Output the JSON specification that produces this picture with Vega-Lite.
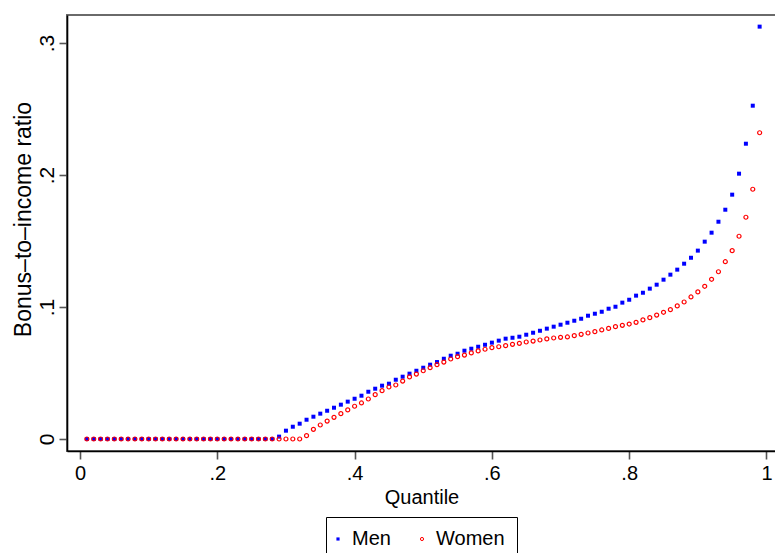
{
  "$schema": "https://vega.github.io/schema/vega-lite/v6.json",
  "width": 709,
  "height": 436,
  "autosize": {"type": "none"},
  "padding": {"left": 67, "top": 15, "right": 0, "bottom": 102},
  "background": "white",
  "config": {
    "font": "Liberation Sans",
    "view": {"stroke": "#6a6a6a", "strokeWidth": 2},
    "axis": {"grid": false, "domainColor": "#000000", "domainWidth": 1.6, "tickColor": "#555555", "tickWidth": 1.6, "tickSize": 8, "labelColor": "#000000", "titleColor": "#000000", "labelFont": "Liberation Sans", "titleFont": "Liberation Sans", "titleFontWeight": "normal"},
    "legend": {"layout": {"bottom": {"anchor": "middle"}}}
  },
  "data": {"values": [
    {"quantile":0.01,"group":"Men","ratio":0},{"quantile":0.02,"group":"Men","ratio":0},{"quantile":0.03,"group":"Men","ratio":0},{"quantile":0.04,"group":"Men","ratio":0},{"quantile":0.05,"group":"Men","ratio":0},{"quantile":0.06,"group":"Men","ratio":0},{"quantile":0.07,"group":"Men","ratio":0},{"quantile":0.08,"group":"Men","ratio":0},{"quantile":0.09,"group":"Men","ratio":0},{"quantile":0.10,"group":"Men","ratio":0},
    {"quantile":0.11,"group":"Men","ratio":0},{"quantile":0.12,"group":"Men","ratio":0},{"quantile":0.13,"group":"Men","ratio":0},{"quantile":0.14,"group":"Men","ratio":0},{"quantile":0.15,"group":"Men","ratio":0},{"quantile":0.16,"group":"Men","ratio":0},{"quantile":0.17,"group":"Men","ratio":0},{"quantile":0.18,"group":"Men","ratio":0},{"quantile":0.19,"group":"Men","ratio":0},{"quantile":0.20,"group":"Men","ratio":0},
    {"quantile":0.21,"group":"Men","ratio":0},{"quantile":0.22,"group":"Men","ratio":0},{"quantile":0.23,"group":"Men","ratio":0},{"quantile":0.24,"group":"Men","ratio":0},{"quantile":0.25,"group":"Men","ratio":0},{"quantile":0.26,"group":"Men","ratio":0},{"quantile":0.27,"group":"Men","ratio":0},{"quantile":0.28,"group":"Men","ratio":0},{"quantile":0.29,"group":"Men","ratio":0.0018},{"quantile":0.30,"group":"Men","ratio":0.0063},
    {"quantile":0.31,"group":"Men","ratio":0.0093},{"quantile":0.32,"group":"Men","ratio":0.0116},{"quantile":0.33,"group":"Men","ratio":0.0146},{"quantile":0.34,"group":"Men","ratio":0.0169},{"quantile":0.35,"group":"Men","ratio":0.0192},{"quantile":0.36,"group":"Men","ratio":0.0214},{"quantile":0.37,"group":"Men","ratio":0.0237},{"quantile":0.38,"group":"Men","ratio":0.0260},{"quantile":0.39,"group":"Men","ratio":0.0283},{"quantile":0.40,"group":"Men","ratio":0.0305},
    {"quantile":0.41,"group":"Men","ratio":0.0328},{"quantile":0.42,"group":"Men","ratio":0.0358},{"quantile":0.43,"group":"Men","ratio":0.0381},{"quantile":0.44,"group":"Men","ratio":0.0404},{"quantile":0.45,"group":"Men","ratio":0.0419},{"quantile":0.46,"group":"Men","ratio":0.0449},{"quantile":0.47,"group":"Men","ratio":0.0472},{"quantile":0.48,"group":"Men","ratio":0.0495},{"quantile":0.49,"group":"Men","ratio":0.0517},{"quantile":0.50,"group":"Men","ratio":0.0540},
    {"quantile":0.51,"group":"Men","ratio":0.0563},{"quantile":0.52,"group":"Men","ratio":0.0583},{"quantile":0.53,"group":"Men","ratio":0.0608},{"quantile":0.54,"group":"Men","ratio":0.0631},{"quantile":0.55,"group":"Men","ratio":0.0646},{"quantile":0.56,"group":"Men","ratio":0.0669},{"quantile":0.57,"group":"Men","ratio":0.0684},{"quantile":0.58,"group":"Men","ratio":0.0699},{"quantile":0.59,"group":"Men","ratio":0.0714},{"quantile":0.60,"group":"Men","ratio":0.0730},
    {"quantile":0.61,"group":"Men","ratio":0.0745},{"quantile":0.62,"group":"Men","ratio":0.0760},{"quantile":0.63,"group":"Men","ratio":0.0767},{"quantile":0.64,"group":"Men","ratio":0.0775},{"quantile":0.65,"group":"Men","ratio":0.0790},{"quantile":0.66,"group":"Men","ratio":0.0805},{"quantile":0.67,"group":"Men","ratio":0.0820},{"quantile":0.68,"group":"Men","ratio":0.0836},{"quantile":0.69,"group":"Men","ratio":0.0851},{"quantile":0.70,"group":"Men","ratio":0.0866},
    {"quantile":0.71,"group":"Men","ratio":0.0881},{"quantile":0.72,"group":"Men","ratio":0.0896},{"quantile":0.73,"group":"Men","ratio":0.0911},{"quantile":0.74,"group":"Men","ratio":0.0934},{"quantile":0.75,"group":"Men","ratio":0.0949},{"quantile":0.76,"group":"Men","ratio":0.0964},{"quantile":0.77,"group":"Men","ratio":0.0987},{"quantile":0.78,"group":"Men","ratio":0.1002},{"quantile":0.79,"group":"Men","ratio":0.1033},{"quantile":0.80,"group":"Men","ratio":0.1055},
    {"quantile":0.81,"group":"Men","ratio":0.1086},{"quantile":0.82,"group":"Men","ratio":0.1108},{"quantile":0.83,"group":"Men","ratio":0.1139},{"quantile":0.84,"group":"Men","ratio":0.1169},{"quantile":0.85,"group":"Men","ratio":0.1207},{"quantile":0.86,"group":"Men","ratio":0.1245},{"quantile":0.87,"group":"Men","ratio":0.1283},{"quantile":0.88,"group":"Men","ratio":0.1328},{"quantile":0.89,"group":"Men","ratio":0.1373},{"quantile":0.90,"group":"Men","ratio":0.1427},
    {"quantile":0.91,"group":"Men","ratio":0.1495},{"quantile":0.92,"group":"Men","ratio":0.1563},{"quantile":0.93,"group":"Men","ratio":0.1646},{"quantile":0.94,"group":"Men","ratio":0.1737},{"quantile":0.95,"group":"Men","ratio":0.1851},{"quantile":0.96,"group":"Men","ratio":0.2010},{"quantile":0.97,"group":"Men","ratio":0.2237},{"quantile":0.98,"group":"Men","ratio":0.2525},{"quantile":0.99,"group":"Men","ratio":0.3124},
    {"quantile":0.01,"group":"Women","ratio":0},{"quantile":0.02,"group":"Women","ratio":0},{"quantile":0.03,"group":"Women","ratio":0},{"quantile":0.04,"group":"Women","ratio":0},{"quantile":0.05,"group":"Women","ratio":0},{"quantile":0.06,"group":"Women","ratio":0},{"quantile":0.07,"group":"Women","ratio":0},{"quantile":0.08,"group":"Women","ratio":0},{"quantile":0.09,"group":"Women","ratio":0},{"quantile":0.10,"group":"Women","ratio":0},
    {"quantile":0.11,"group":"Women","ratio":0},{"quantile":0.12,"group":"Women","ratio":0},{"quantile":0.13,"group":"Women","ratio":0},{"quantile":0.14,"group":"Women","ratio":0},{"quantile":0.15,"group":"Women","ratio":0},{"quantile":0.16,"group":"Women","ratio":0},{"quantile":0.17,"group":"Women","ratio":0},{"quantile":0.18,"group":"Women","ratio":0},{"quantile":0.19,"group":"Women","ratio":0},{"quantile":0.20,"group":"Women","ratio":0},
    {"quantile":0.21,"group":"Women","ratio":0},{"quantile":0.22,"group":"Women","ratio":0},{"quantile":0.23,"group":"Women","ratio":0},{"quantile":0.24,"group":"Women","ratio":0},{"quantile":0.25,"group":"Women","ratio":0},{"quantile":0.26,"group":"Women","ratio":0},{"quantile":0.27,"group":"Women","ratio":0},{"quantile":0.28,"group":"Women","ratio":0},{"quantile":0.29,"group":"Women","ratio":0},{"quantile":0.30,"group":"Women","ratio":0},
    {"quantile":0.31,"group":"Women","ratio":0},{"quantile":0.32,"group":"Women","ratio":0},{"quantile":0.33,"group":"Women","ratio":0.0025},{"quantile":0.34,"group":"Women","ratio":0.0073},{"quantile":0.35,"group":"Women","ratio":0.0106},{"quantile":0.36,"group":"Women","ratio":0.0136},{"quantile":0.37,"group":"Women","ratio":0.0164},{"quantile":0.38,"group":"Women","ratio":0.0192},{"quantile":0.39,"group":"Women","ratio":0.0220},{"quantile":0.40,"group":"Women","ratio":0.0248},
    {"quantile":0.41,"group":"Women","ratio":0.0273},{"quantile":0.42,"group":"Women","ratio":0.0303},{"quantile":0.43,"group":"Women","ratio":0.0336},{"quantile":0.44,"group":"Women","ratio":0.0366},{"quantile":0.45,"group":"Women","ratio":0.0394},{"quantile":0.46,"group":"Women","ratio":0.0409},{"quantile":0.47,"group":"Women","ratio":0.0439},{"quantile":0.48,"group":"Women","ratio":0.0470},{"quantile":0.49,"group":"Women","ratio":0.0492},{"quantile":0.50,"group":"Women","ratio":0.0517},
    {"quantile":0.51,"group":"Women","ratio":0.0540},{"quantile":0.52,"group":"Women","ratio":0.0563},{"quantile":0.53,"group":"Women","ratio":0.0583},{"quantile":0.54,"group":"Women","ratio":0.0606},{"quantile":0.55,"group":"Women","ratio":0.0624},{"quantile":0.56,"group":"Women","ratio":0.0636},{"quantile":0.57,"group":"Women","ratio":0.0652},{"quantile":0.58,"group":"Women","ratio":0.0667},{"quantile":0.59,"group":"Women","ratio":0.0680},{"quantile":0.60,"group":"Women","ratio":0.0692},
    {"quantile":0.61,"group":"Women","ratio":0.0699},{"quantile":0.62,"group":"Women","ratio":0.0707},{"quantile":0.63,"group":"Women","ratio":0.0717},{"quantile":0.64,"group":"Women","ratio":0.0725},{"quantile":0.65,"group":"Women","ratio":0.0735},{"quantile":0.66,"group":"Women","ratio":0.0742},{"quantile":0.67,"group":"Women","ratio":0.0750},{"quantile":0.68,"group":"Women","ratio":0.0758},{"quantile":0.69,"group":"Women","ratio":0.0765},{"quantile":0.70,"group":"Women","ratio":0.0770},
    {"quantile":0.71,"group":"Women","ratio":0.0773},{"quantile":0.72,"group":"Women","ratio":0.0783},{"quantile":0.73,"group":"Women","ratio":0.0793},{"quantile":0.74,"group":"Women","ratio":0.0803},{"quantile":0.75,"group":"Women","ratio":0.0813},{"quantile":0.76,"group":"Women","ratio":0.0826},{"quantile":0.77,"group":"Women","ratio":0.0838},{"quantile":0.78,"group":"Women","ratio":0.0851},{"quantile":0.79,"group":"Women","ratio":0.0861},{"quantile":0.80,"group":"Women","ratio":0.0871},
    {"quantile":0.81,"group":"Women","ratio":0.0884},{"quantile":0.82,"group":"Women","ratio":0.0902},{"quantile":0.83,"group":"Women","ratio":0.0919},{"quantile":0.84,"group":"Women","ratio":0.0939},{"quantile":0.85,"group":"Women","ratio":0.0960},{"quantile":0.86,"group":"Women","ratio":0.0980},{"quantile":0.87,"group":"Women","ratio":0.1008},{"quantile":0.88,"group":"Women","ratio":0.1038},{"quantile":0.89,"group":"Women","ratio":0.1076},{"quantile":0.90,"group":"Women","ratio":0.1114},
    {"quantile":0.91,"group":"Women","ratio":0.1157},{"quantile":0.92,"group":"Women","ratio":0.1210},{"quantile":0.93,"group":"Women","ratio":0.1267},{"quantile":0.94,"group":"Women","ratio":0.1343},{"quantile":0.95,"group":"Women","ratio":0.1427},{"quantile":0.96,"group":"Women","ratio":0.1536},{"quantile":0.97,"group":"Women","ratio":0.1680},{"quantile":0.98,"group":"Women","ratio":0.1892},{"quantile":0.99,"group":"Women","ratio":0.2320}
  ]},
  "mark": {"type": "point", "size": 16, "strokeWidth": 1.2, "opacity": 1},
  "encoding": {
    "x": {
      "field": "quantile", "type": "quantitative",
      "scale": {"domain": [-0.01894, 1.01384], "nice": false, "zero": false},
      "axis": {"values": [0, 0.2, 0.4, 0.6, 0.8, 1], "labelExpr": "datum.value == 0 ? '0' : datum.value == 1 ? '1' : replace(format(datum.value, '.1f'), '0.', '.')", "labelFontSize": 20, "labelPadding": 4, "title": "Quantile", "titleFontSize": 20, "titleBaseline": "alphabetic", "titleY": 52, "labelFlush": false}
    },
    "y": {
      "field": "ratio", "type": "quantitative",
      "scale": {"domain": [-0.00909, 0.32121], "nice": false, "zero": false},
      "axis": {"values": [0, 0.1, 0.2, 0.3], "labelExpr": "datum.value == 0 ? '0' : replace(format(datum.value, '.1f'), '0.', '.')", "labelFontSize": 21, "labelAngle": 270, "labelAlign": "center", "labelBaseline": "bottom", "labelPadding": 2, "title": "Bonus–to–income ratio", "titleFontSize": 23, "titleAngle": 270, "titleAlign": "center", "titleBaseline": "alphabetic", "titleX": -37, "titleY": 204, "labelFlush": false}
    },
    "shape": {"field": "group", "type": "nominal", "scale": {"domain": ["Men", "Women"], "range": ["square", "circle"]}, "legend": {"title": null}},
    "fill": {"field": "group", "type": "nominal", "scale": {"domain": ["Men", "Women"], "range": ["#0000ff", "rgba(255,255,255,0)"]}, "legend": {"title": null}},
    "stroke": {"field": "group", "type": "nominal", "scale": {"domain": ["Men", "Women"], "range": ["rgba(0,0,255,0)", "#ff0000"]}, "legend": {
      "title": null, "orient": "bottom", "direction": "horizontal", "offset": 10,
      "strokeColor": "#000000", "padding": 12, "labelFontSize": 20, "labelFont": "Liberation Sans", "labelColor": "#000000",
      "symbolSize": 10, "symbolStrokeWidth": 1, "symbolOffset": -10, "labelOffset": 4, "columnPadding": 27
    }}
  }
}
